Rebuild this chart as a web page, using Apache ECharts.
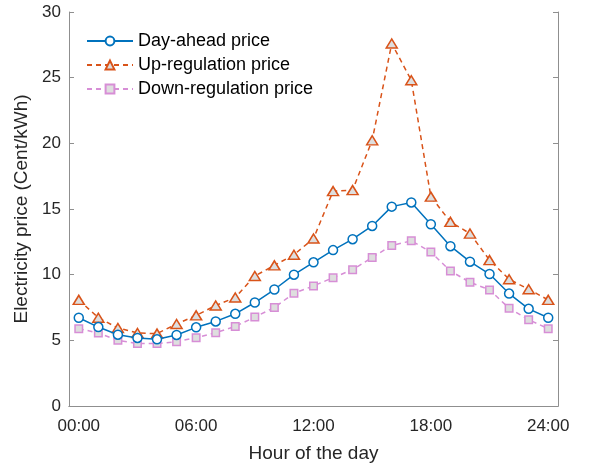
<!DOCTYPE html>
<html>
<head>
<meta charset="utf-8">
<script src="https://cdn.jsdelivr.net/npm/echarts@6/dist/echarts.min.js"></script>
<style>html,body{margin:0;padding:0;background:#fff}#c{width:603px;height:468px}</style>
</head>
<body>
<div id="c"></div>
<script>
var hours = ['00:00','01:00','02:00','03:00','04:00','05:00','06:00','07:00','08:00','09:00','10:00','11:00','12:00','13:00','14:00','15:00','16:00','17:00','18:00','19:00','20:00','21:00','22:00','23:00','24:00'];
var dayAhead = [6.72,6.01,5.43,5.18,5.08,5.41,5.99,6.44,7.02,7.88,8.87,10.0,10.94,11.87,12.70,13.71,15.18,15.5,13.84,12.17,10.99,10.05,8.56,7.40,6.72];
var upReg = [8.08,6.72,5.94,5.56,5.51,6.24,6.9,7.65,8.26,9.9,10.71,11.52,12.75,16.36,16.44,20.23,27.6,24.8,15.94,14.02,13.13,11.11,9.65,8.89,8.08];
var downReg = [5.89,5.56,5.0,4.75,4.75,4.9,5.2,5.58,6.06,6.77,7.5,8.59,9.14,9.77,10.38,11.31,12.22,12.58,11.72,10.28,9.42,8.84,7.45,6.57,5.89];
var yTicks = [0,5,10,15,20,25,30];

var axisCol = '#8f8f8f';
var txtCol = '#262626';
var font = 'Liberation Sans, Arial, sans-serif';
function every6(i){ return i % 6 === 0; }

var chart = echarts.init(document.getElementById('c'), null, {renderer:'canvas'});
chart.setOption({
  animation: false,
  backgroundColor: '#fff',
  textStyle: {fontFamily: font},
  grid: {left: 69, right: 45, top: 12, bottom: 60, containLabel: false},
  legend: {
    orient: 'vertical', left: 86, top: 32, itemWidth: 46, itemHeight: 11, itemGap: 6, padding: 0,
    textStyle: {fontSize: 18, lineHeight: 18, color: '#000', fontFamily: font},
    data: ['Day-ahead price','Up-regulation price','Down-regulation price']
  },
  xAxis: [{
    type: 'category', data: hours, boundaryGap: true, position: 'bottom',
    name: 'Hour of the day', nameLocation: 'middle', nameGap: 38,
    nameTextStyle: {fontSize: 19, color: txtCol, fontFamily: font},
    axisLine: {lineStyle: {color: axisCol, width: 1}},
    axisTick: {inside: true, alignWithLabel: true, interval: every6, length: 5, lineStyle: {color: axisCol}},
    axisLabel: {interval: every6, fontSize: 17, color: txtCol, margin: 12, fontFamily: font},
    splitLine: {show: false}
  },{
    type: 'category', data: hours, boundaryGap: true, position: 'top',
    axisLine: {lineStyle: {color: axisCol, width: 1}},
    axisTick: {inside: true, alignWithLabel: true, interval: every6, length: 5, lineStyle: {color: axisCol}},
    axisLabel: {show: false}, splitLine: {show: false}
  }],
  yAxis: [{
    type: 'value', min: 0, max: 30, interval: 5, position: 'left',
    name: 'Electricity price (Cent/kWh)', nameLocation: 'middle', nameGap: 37, nameRotate: 90,
    nameTextStyle: {fontSize: 19, color: txtCol, fontFamily: font},
    axisLine: {show: true, lineStyle: {color: axisCol, width: 1}},
    axisTick: {show: true, inside: true, length: 5, lineStyle: {color: axisCol}},
    axisLabel: {fontSize: 17, color: txtCol, margin: 8, fontFamily: font},
    splitLine: {show: false}
  },{
    type: 'value', min: 0, max: 30, interval: 5, position: 'right',
    axisLine: {show: true, lineStyle: {color: axisCol, width: 1}},
    axisTick: {show: true, inside: true, length: 5, lineStyle: {color: axisCol}},
    axisLabel: {show: false}, splitLine: {show: false}
  }],
  series: [{
    name: 'Day-ahead price', type: 'line', data: dayAhead,
    symbol: 'circle', symbolSize: 9,
    lineStyle: {color: '#0072BD', width: 1.5},
    itemStyle: {color: '#fff', borderColor: '#0072BD', borderWidth: 1.5},
    z: 4
  },{
    name: 'Up-regulation price', type: 'line', data: upReg,
    symbol: 'triangle', symbolSize: [11, 9],
    lineStyle: {color: '#D95319', width: 1.5, type: [5,4]},
    itemStyle: {color: '#dedede', borderColor: '#D95319', borderWidth: 1.5},
    z: 3
  },{
    name: 'Down-regulation price', type: 'line', data: downReg,
    symbol: 'rect', symbolSize: 7.5,
    lineStyle: {color: '#D78ED6', width: 1.5, type: [5,4]},
    itemStyle: {color: '#dedede', borderColor: '#D78ED6', borderWidth: 1.5},
    z: 2
  }]
});
</script>
</body>
</html>
